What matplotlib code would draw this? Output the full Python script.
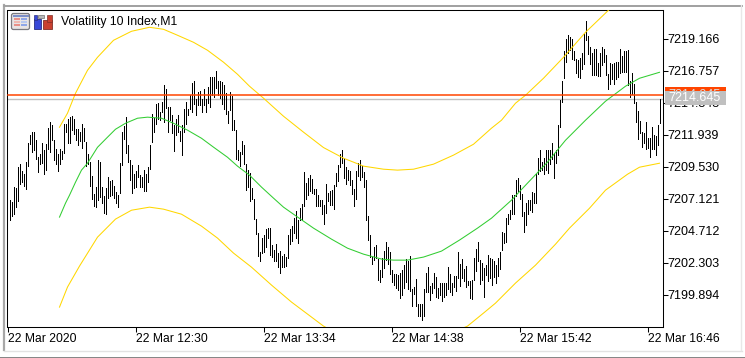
import numpy as np
import matplotlib
matplotlib.use("Agg")
import matplotlib.pyplot as plt
from matplotlib.patches import Rectangle, FancyBboxPatch

plt.rcParams['font.family'] = ['Liberation Sans', 'DejaVu Sans']

high = [
    7207.05, 7206.90, 7208.01, 7207.96, 7209.51, 7209.76, 7209.21, 7208.96, 7209.91, 7211.32,
    7211.92, 7212.12, 7212.12, 7211.52, 7210.27, 7210.47, 7211.32, 7210.82, 7211.27, 7212.42,
    7212.93, 7212.68, 7211.52, 7210.87, 7210.52, 7210.87, 7210.72, 7212.78, 7212.78, 7213.13,
    7213.28, 7213.33, 7213.13, 7212.37, 7212.37, 7212.12, 7212.73, 7212.47, 7211.42, 7210.52,
    7209.86, 7208.86, 7207.50, 7208.01, 7210.02, 7209.86, 7208.01, 7207.30, 7207.96, 7208.76,
    7208.46, 7208.51, 7208.06, 7207.61, 7207.38, 7209.79, 7212.15, 7212.60, 7213.30, 7211.20,
    7210.02, 7209.64, 7208.99, 7209.19, 7209.64, 7208.94, 7208.74, 7209.28, 7208.99, 7209.54,
    7211.15, 7213.53, 7213.21, 7214.26, 7214.31, 7213.66, 7214.41, 7215.66, 7215.36, 7214.06,
    7214.06, 7213.41, 7212.65, 7213.10, 7213.46, 7212.20, 7212.65, 7213.91, 7214.41, 7213.91,
    7214.96, 7215.87, 7216.02, 7214.66, 7215.16, 7215.26, 7214.66, 7215.41, 7214.66, 7215.56,
    7216.27, 7216.32, 7216.27, 7216.77, 7216.02, 7216.02, 7215.92, 7215.67, 7215.09, 7213.73,
    7215.14, 7214.84, 7213.08, 7212.28, 7210.77, 7210.65, 7211.47, 7211.15, 7209.72, 7209.26,
    7209.06, 7207.91, 7207.06, 7205.60, 7204.50, 7203.09, 7204.15, 7204.40, 7204.80, 7204.90,
    7204.90, 7203.64, 7203.24, 7203.69, 7202.99, 7203.19, 7202.79, 7202.94, 7202.74, 7204.40,
    7204.80, 7205.05, 7205.65, 7206.20, 7205.50, 7206.45, 7206.75, 7209.11, 7208.31, 7208.71,
    7208.91, 7208.61, 7207.86, 7207.86, 7207.36, 7207.01, 7207.01, 7206.63, 7208.21, 7207.51,
    7207.66, 7207.74, 7208.14, 7209.04, 7209.69, 7210.45, 7210.75, 7210.15, 7209.49, 7209.29,
    7209.24, 7208.54, 7207.84, 7209.19, 7209.79, 7210.04, 7209.59, 7209.14, 7208.49, 7205.78,
    7204.42, 7202.72, 7203.47, 7203.62, 7202.57, 7201.71, 7202.67, 7203.17, 7203.82, 7203.47,
    7203.07, 7201.71, 7201.46, 7201.46, 7201.36, 7201.51, 7201.71, 7202.11, 7202.57, 7202.41,
    7202.77, 7200.31, 7200.46, 7201.06, 7199.20, 7199.20, 7199.15, 7200.31, 7201.51, 7201.96,
    7200.51, 7200.76, 7201.51, 7201.21, 7200.36, 7200.73, 7200.78, 7200.73, 7200.78, 7201.99,
    7201.43, 7200.73, 7201.33, 7201.28, 7203.09, 7202.19, 7202.54, 7201.84, 7202.04, 7200.93,
    7200.93, 7201.03, 7202.64, 7203.34, 7203.84, 7202.49, 7202.24, 7201.89, 7202.14, 7202.89,
    7202.64, 7202.59, 7202.44, 7202.09, 7202.64, 7203.09, 7204.60, 7204.55, 7205.65, 7205.95,
    7206.25, 7207.36, 7207.41, 7208.51, 7208.71, 7208.16, 7207.46, 7206.10, 7206.81, 7207.01,
    7207.01, 7207.61, 7207.51, 7208.96, 7210.22, 7210.77, 7209.87, 7210.22, 7210.77, 7210.80,
    7210.80, 7211.30, 7210.54, 7210.80, 7212.65, 7214.56, 7216.02, 7218.27, 7219.13, 7219.48,
    7219.28, 7219.13, 7218.27, 7217.62, 7217.57, 7217.72, 7218.07, 7219.53, 7220.48, 7219.38,
    7218.53, 7218.12, 7218.37, 7218.42, 7217.32, 7218.07, 7218.58, 7218.42, 7217.92, 7216.52,
    7217.37, 7217.27, 7217.32, 7217.42, 7217.42, 7218.42, 7217.87, 7218.22, 7218.27, 7218.32,
    7216.02, 7216.57, 7215.76, 7214.41, 7213.71, 7212.95, 7212.15, 7212.10, 7212.90, 7211.70,
    7211.70, 7212.50, 7211.95, 7211.85, 7212.65, 7214.66,
]
low = [
    7205.55, 7205.85, 7205.95, 7206.50, 7206.95, 7208.26, 7208.36, 7208.11, 7207.86, 7209.56,
    7211.27, 7210.67, 7210.82, 7210.12, 7209.11, 7209.76, 7209.81, 7209.01, 7209.26, 7210.87,
    7210.62, 7211.57, 7210.02, 7209.71, 7209.21, 7209.71, 7210.12, 7210.57, 7212.12, 7211.32,
    7211.32, 7212.32, 7211.97, 7211.52, 7211.17, 7211.47, 7210.97, 7211.47, 7209.61, 7209.71,
    7208.06, 7207.10, 7206.55, 7206.50, 7207.05, 7207.25, 7206.80, 7206.05, 7206.00, 7207.20,
    7207.30, 7207.41, 7207.15, 7206.78, 7206.48, 7207.53, 7209.64, 7211.60, 7210.54, 7209.89,
    7208.51, 7207.51, 7207.93, 7208.01, 7208.76, 7208.01, 7208.01, 7207.68, 7207.68, 7208.39,
    7209.34, 7211.40, 7212.15, 7212.78, 7213.15, 7213.03, 7213.66, 7212.90, 7213.96, 7212.15,
    7213.03, 7212.03, 7210.70, 7211.95, 7212.15, 7211.45, 7210.44, 7212.15, 7212.78, 7213.41,
    7213.91, 7213.66, 7214.28, 7213.41, 7214.16, 7214.21, 7213.66, 7214.21, 7213.66, 7214.36,
    7214.03, 7214.91, 7214.79, 7215.46, 7214.91, 7214.71, 7214.28, 7213.91, 7213.53, 7212.83,
    7213.78, 7212.33, 7212.28, 7210.12, 7210.02, 7209.57, 7210.52, 7209.72, 7207.76, 7208.01,
    7206.96, 7207.06, 7205.60, 7204.45, 7202.79, 7202.44, 7203.04, 7203.09, 7203.49, 7204.15,
    7202.89, 7202.69, 7202.44, 7202.39, 7201.99, 7201.53, 7201.99, 7201.99, 7202.04, 7202.64,
    7203.69, 7203.94, 7204.50, 7204.15, 7203.79, 7205.50, 7205.55, 7206.60, 7207.06, 7207.36,
    7207.71, 7207.56, 7207.46, 7206.60, 7206.55, 7206.55, 7205.95, 7205.20, 7206.05, 7206.96,
    7206.66, 7206.68, 7206.33, 7208.09, 7208.44, 7209.49, 7209.79, 7208.69, 7208.19, 7208.54,
    7208.14, 7207.48, 7206.58, 7207.13, 7208.79, 7208.54, 7208.74, 7207.99, 7205.53, 7203.97,
    7202.72, 7202.21, 7202.51, 7202.62, 7201.01, 7200.86, 7201.21, 7201.91, 7202.51, 7202.21,
    7201.46, 7200.86, 7200.61, 7200.36, 7200.21, 7199.65, 7199.85, 7200.36, 7200.86, 7200.31,
    7200.16, 7199.00, 7199.96, 7199.05, 7198.25, 7198.25, 7197.95, 7198.30, 7200.06, 7200.11,
    7199.50, 7200.00, 7200.36, 7199.70, 7199.65, 7199.83, 7199.43, 7199.73, 7199.88, 7200.33,
    7200.08, 7199.83, 7200.48, 7200.13, 7201.13, 7200.53, 7201.13, 7200.88, 7200.48, 7200.58,
    7199.63, 7199.58, 7201.03, 7201.69, 7202.39, 7200.68, 7200.98, 7199.73, 7201.38, 7200.88,
    7201.13, 7200.63, 7201.23, 7200.73, 7201.33, 7201.84, 7203.29, 7203.79, 7203.84, 7205.20,
    7205.60, 7205.95, 7205.95, 7207.31, 7207.71, 7207.06, 7205.85, 7204.60, 7205.15, 7206.00,
    7206.25, 7206.15, 7206.80, 7206.80, 7208.96, 7209.22, 7209.27, 7209.01, 7209.27, 7209.04,
    7209.74, 7210.14, 7208.69, 7209.79, 7210.39, 7212.52, 7214.41, 7216.22, 7217.42, 7218.07,
    7218.32, 7217.67, 7217.57, 7216.57, 7216.27, 7216.22, 7216.92, 7217.27, 7219.08, 7218.02,
    7217.27, 7216.47, 7216.47, 7216.42, 7216.37, 7216.37, 7217.17, 7217.42, 7216.42, 7215.36,
    7215.77, 7216.17, 7215.77, 7216.17, 7216.27, 7216.62, 7216.67, 7216.67, 7216.67, 7215.71,
    7214.76, 7215.01, 7214.36, 7212.90, 7211.60, 7212.10, 7211.00, 7211.35, 7210.89, 7210.95,
    7210.24, 7210.89, 7210.84, 7210.39, 7211.14, 7212.80,
]

ma_bar = [25, 28, 30, 33, 36, 39, 44, 49, 53, 58, 64, 69, 76, 82, 89, 96, 102, 109, 114, 120, 126, 132, 137, 142, 152,
          161, 169, 177, 186, 192, 199, 207, 216, 225, 234, 241, 251, 259, 269, 278, 288, 298, 308, 315, 325]
ma_val = [7205.73, 7206.78, 7207.38, 7208.36, 7209.27, 7209.79, 7210.99, 7211.75, 7212.35, 7212.80, 7213.18, 7213.26,
          7213.18, 7212.80, 7212.28, 7211.67, 7211.00, 7210.24, 7209.57, 7208.89, 7207.99, 7207.16, 7206.48, 7205.95,
          7204.90, 7204.07, 7203.39, 7202.94, 7202.57, 7202.49, 7202.49, 7202.72, 7203.17, 7204.00, 7204.90, 7205.65,
          7207.01, 7208.29, 7209.87, 7211.52, 7213.03, 7214.46, 7215.59, 7216.19, 7216.64]

upper_bar = [25, 29, 33, 39, 44, 52, 61, 70, 77, 84, 92, 99, 107, 114, 120, 127, 137, 147, 157, 167, 177, 187, 194,
             202, 212, 222, 232, 241, 246, 253, 258, 267, 277, 288, 300, 308, 325]
upper_val = [7212.50, 7213.56, 7215.06, 7216.79, 7217.77, 7219.05, 7219.73, 7220.03, 7219.88, 7219.43, 7218.90, 7218.30,
             7217.40, 7216.49, 7215.59, 7214.69, 7213.33, 7212.13, 7210.97, 7210.17, 7209.57, 7209.34, 7209.27, 7209.34,
             7209.72, 7210.40, 7211.22, 7212.43, 7213.03, 7214.31, 7214.91, 7216.19, 7217.77, 7219.65, 7221.39, 7222.37,
             7223.42]

lower_bar = [25, 29, 35, 44, 53, 61, 70, 77, 86, 96, 104, 112, 121, 131, 141, 151, 157, 167, 177, 192, 202, 212, 221,
             229, 237, 243, 253, 263, 273, 280, 290, 298, 309, 315, 325]
lower_val = [7198.95, 7200.46, 7202.04, 7204.22, 7205.58, 7206.25, 7206.48, 7206.33, 7205.95, 7205.05, 7204.15, 7203.02,
             7201.96, 7200.61, 7199.33, 7198.20, 7197.52, 7196.69, 7196.09, 7195.72, 7195.79, 7196.32, 7196.99, 7197.52,
             7198.50, 7199.25, 7200.76, 7202.11, 7203.69, 7204.90, 7206.40, 7207.76, 7208.96, 7209.49, 7209.79]

ask_price = 7214.945
bid_price = 7214.645

y_ticks = [7199.894, 7202.303, 7204.712, 7207.121, 7209.530, 7211.939, 7214.348, 7216.757, 7219.166]
x_ticks = [-1, 63, 127, 191, 255, 319]
x_labels = ['22 Mar 2020', '22 Mar 12:30', '22 Mar 13:34', '22 Mar 14:38', '22 Mar 15:42', '22 Mar 16:46']

W, H = 745, 358
fig = plt.figure(figsize=(W / 100, H / 100), dpi=100)
ax = fig.add_axes([7.5 / W, 1 - 326.5 / H, 655 / W, 317 / H])

bars = np.arange(len(high))
ax.vlines(bars, low, high, colors='black', linewidth=0.6, antialiased=False, zorder=3)
ax.plot(ma_bar, ma_val, color='#32CD32', linewidth=0.75, zorder=4)
ax.plot(upper_bar, upper_val, color='#FFD700', linewidth=0.75, zorder=4)
ax.plot(lower_bar, lower_val, color='#FFD700', linewidth=0.75, zorder=4)
ax.plot([-1, 326.5], [ask_price, ask_price], color='#FF4500', linewidth=1.1, zorder=5)
ax.plot([-1, 326.5], [bid_price, bid_price], color='#C0C0C0', linewidth=1.0, zorder=2)

ax.set_xlim(-1, 326.5)
ax.set_ylim(7197.49, 7221.37)
ax.set_xticks(x_ticks)
ax.set_xticklabels(x_labels, ha='left')
ax.set_yticks(y_ticks)
ax.set_yticklabels([f'{v:.3f}' for v in y_ticks])
ax.yaxis.tick_right()
ax.tick_params(axis='x', length=3.6, width=0.75, pad=1.2, labelsize=8.7)
ax.tick_params(axis='y', length=3.6, width=0.75, pad=0, labelsize=9)
for s in ax.spines.values():
    s.set_linewidth(0.75)

# window frame, icons and price tags, in pixel coordinates
ov = fig.add_axes([0, 0, 1, 1], zorder=10)
ov.set_xlim(0, W)
ov.set_ylim(H, 0)
ov.axis('off')

ov.plot([4, 4], [5, 350], color='#A8A8A8', linewidth=1.6)
ov.plot([4, 742], [5.5, 5.5], color='#A0A0A0', linewidth=1.4)
ov.plot([4, 742], [350.5, 350.5], color='#E2E2E2', linewidth=1.0)
ov.plot([741, 741], [5, 350], color='#E8E8E8', linewidth=1.0)
ov.plot([0, W], [357.5, 357.5], color='#707070', linewidth=1.2)

ov.text(61, 22.5, 'Volatility 10 Index,M1', fontsize=8.8, va='center', ha='left', color='black')

# table icon
ov.add_patch(FancyBboxPatch((11.5, 13.5), 18, 16, boxstyle='round,pad=0,rounding_size=2',
                            fc='#E8E4E4', ec='#7A7A80', lw=0.9))
ov.add_patch(Rectangle((12.5, 14.5), 16, 2.5, fc='#7C8FC8', ec='none'))
for top, c1, c2 in [(18, '#E89088', '#8FA6E8'), (21, '#F0B8B0', '#B8C8F0'), (24, '#E89088', '#8FA6E8')]:
    ov.add_patch(Rectangle((14, top), 6, 2.2, fc=c1, ec='none'))
    ov.add_patch(Rectangle((21, top), 6, 2.2, fc=c2, ec='none'))

# blue and red icon
ov.add_patch(Rectangle((33.5, 19), 7.5, 10, fc='#3848D8', ec='#2A2F80', lw=0.6))
ov.add_patch(Rectangle((34, 15), 3, 5, fc='#3848D8', ec='#2A2F80', lw=0.5))
ov.add_patch(Rectangle((38, 14.5), 6, 3, fc='#B8B8B8', ec='#707070', lw=0.5))
ov.add_patch(Rectangle((42.5, 20), 9, 9, fc='#C84030', ec='#803028', lw=0.6))
ov.add_patch(Rectangle((47, 14.5), 5, 7, fc='#C84030', ec='#803028', lw=0.5))

# price tags over the axis labels
ov.add_patch(Rectangle((665, 87), 61, 13, fc='#FF4500', ec='none', zorder=2))
ov.text(668.5, 94.5, f'{ask_price:.3f}', fontsize=9, color='#DDDDDD', va='center', ha='left', zorder=3)
ov.add_patch(Rectangle((665, 91), 61, 14, fc='#C0C0C0', ec='none', zorder=4))
ov.text(668.5, 98, f'{bid_price:.3f}', fontsize=9, color='white', va='center', ha='left', zorder=5)

fig.savefig('out.png', dpi=100)
